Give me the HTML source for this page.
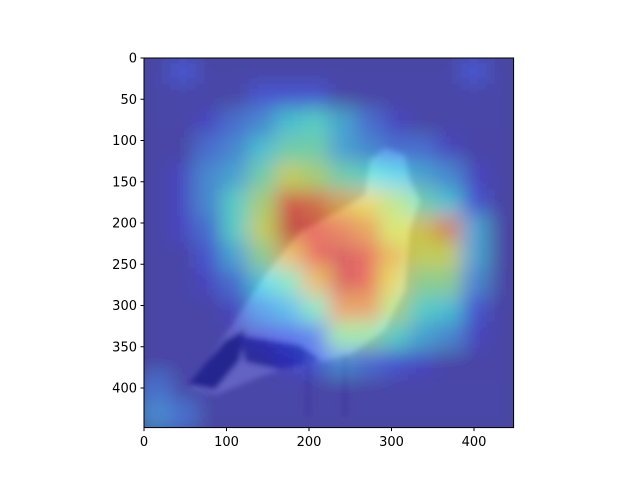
<!DOCTYPE html>
<html><head><meta charset="utf-8"><style>
html,body{margin:0;padding:0;background:#fff}
svg text{font-family:"DejaVu Sans","Liberation Sans",sans-serif;font-size:13px;fill:#000}
</style></head><body>
<svg id="chart" width="640" height="480" viewBox="0 0 640 480" xmlns="http://www.w3.org/2000/svg">
<defs>
<clipPath id="ax"><rect x="144" y="58" width="369.6" height="369.6"/></clipPath>
<filter id="blur" x="-20%" y="-20%" width="140%" height="140%"><feGaussianBlur stdDeviation="9"/></filter>
<filter id="blur2"><feGaussianBlur stdDeviation="3"/></filter>
</defs>
<g clip-path="url(#ax)">
<rect x="144" y="58" width="370" height="370" fill="#9a949c"/>
<g filter="url(#blur2)">
<path d="M190,388 L235,320 L265,275 L300,232 L340,210 L365,195 L370,160 L385,148 L405,155 L410,180 L420,200 L410,230 L405,290 L385,330 L350,355 L330,360 L300,365 L265,375 L215,395 Z" fill="#d0d0d8"/>
<path d="M188,385 L225,340 L245,330 L240,360 L215,390 Z" fill="#50506a"/>
<path d="M240,335 L300,345 L320,360 L280,370 L245,362 Z" fill="#606080"/>
<rect x="305" y="355" width="6" height="62" fill="#8a8090"/>
<rect x="342" y="355" width="6" height="62" fill="#8a8090"/>
</g>
<g id="heat" opacity="0.52" filter="url(#blur)"></g>
</g>
<rect x="144" y="58" width="369.6" height="369.6" fill="none" stroke="#000" stroke-width="1"/>
<g id="xticks"></g>
<g id="yticks"></g>
</svg>
<script>
const xTicks=[0,100,200,300,400];
const yTicks=[0,50,100,150,200,250,300,350,400];
const cellSize=32;
const heatRows=[
[0.05,0.15,0.05,0.05,0.05,0.05,0.05,0.05,0.05,0.05,0.05,0.05,0.15,0.05],
[0.05,0.05,0.05,0.05,0.15,0.15,0.15,0.05,0.05,0.05,0.05,0.05,0.05,0.05],
[0.05,0.05,0.1,0.2,0.25,0.35,0.4,0.3,0.2,0.1,0.05,0.05,0.05,0.05],
[0.05,0.05,0.2,0.25,0.35,0.45,0.45,0.3,0.25,0.2,0.2,0.1,0.05,0.05],
[0.05,0.1,0.25,0.3,0.45,0.6,0.55,0.45,0.4,0.35,0.3,0.25,0.1,0.05],
[0.05,0.1,0.25,0.4,0.55,0.85,0.8,0.7,0.65,0.55,0.45,0.35,0.15,0.05],
[0.05,0.1,0.2,0.4,0.6,0.9,0.85,0.8,0.75,0.6,0.65,0.75,0.3,0.05],
[0.05,0.05,0.15,0.3,0.5,0.7,0.85,0.9,0.85,0.7,0.6,0.6,0.3,0.05],
[0.05,0.05,0.1,0.2,0.35,0.45,0.7,0.9,0.85,0.65,0.5,0.5,0.25,0.05],
[0.05,0.05,0.05,0.1,0.25,0.3,0.45,0.75,0.75,0.55,0.4,0.35,0.15,0.05],
[0.05,0.05,0.05,0.05,0.1,0.15,0.2,0.5,0.5,0.4,0.3,0.25,0.1,0.05],
[0.05,0.05,0.05,0.05,0.05,0.1,0.15,0.25,0.2,0.15,0.1,0.05,0.05,0.05],
[0.2,0.05,0.05,0.05,0.05,0.05,0.05,0.05,0.05,0.05,0.05,0.05,0.05,0.05],
[0.25,0.2,0.05,0.05,0.05,0.05,0.05,0.05,0.05,0.05,0.05,0.05,0.05,0.05]
];
const X0=144,Y0=58,S=369.6/448;
const sx=v=>X0+v*S, sy=v=>Y0+v*S;
function jet(v){
  const c=x=>Math.round(255*Math.max(0,Math.min(1,x)));
  return `rgb(${c(1.5-Math.abs(4*v-3))},${c(1.5-Math.abs(4*v-2))},${c(1.5-Math.abs(4*v-1))})`;
}
const NS="http://www.w3.org/2000/svg";
const heat=document.getElementById('heat');
const base=document.createElementNS(NS,'rect');
base.setAttribute('x',100);base.setAttribute('y',20);base.setAttribute('width',460);base.setAttribute('height',460);
base.setAttribute('fill',jet(0.02));


heat.appendChild(base);
heatRows.forEach((row,r)=>row.forEach((v,c)=>{
  const e=document.createElementNS(NS,'rect');
  e.setAttribute('x',sx(c*cellSize)-0.5);e.setAttribute('y',sy(r*cellSize)-0.5);
  e.setAttribute('width',cellSize*S+1);e.setAttribute('height',cellSize*S+1);
  e.setAttribute('fill',jet(v));
  
  
  heat.appendChild(e);
}));
const xg=document.getElementById('xticks'),yg=document.getElementById('yticks');
xTicks.forEach(t=>{
  const l=document.createElementNS(NS,'line');
  l.setAttribute('x1',sx(t));l.setAttribute('x2',sx(t));l.setAttribute('y1',427.6);l.setAttribute('y2',431.1);l.setAttribute('stroke','#000');
  
  
  xg.appendChild(l);
  const tx=document.createElementNS(NS,'text');
  tx.setAttribute('x',sx(t));tx.setAttribute('y',446);tx.setAttribute('text-anchor','middle');tx.textContent=t;
  
  
  xg.appendChild(tx);
});
yTicks.forEach(t=>{
  const l=document.createElementNS(NS,'line');
  l.setAttribute('x1',140.5);l.setAttribute('x2',144);l.setAttribute('y1',sy(t));l.setAttribute('y2',sy(t));l.setAttribute('stroke','#000');
  
  
  yg.appendChild(l);
  const tx=document.createElementNS(NS,'text');
  tx.setAttribute('x',137);tx.setAttribute('y',sy(t)+4.5);tx.setAttribute('text-anchor','end');tx.textContent=t;
  
  
  yg.appendChild(tx);
});
</script>
</body></html>
